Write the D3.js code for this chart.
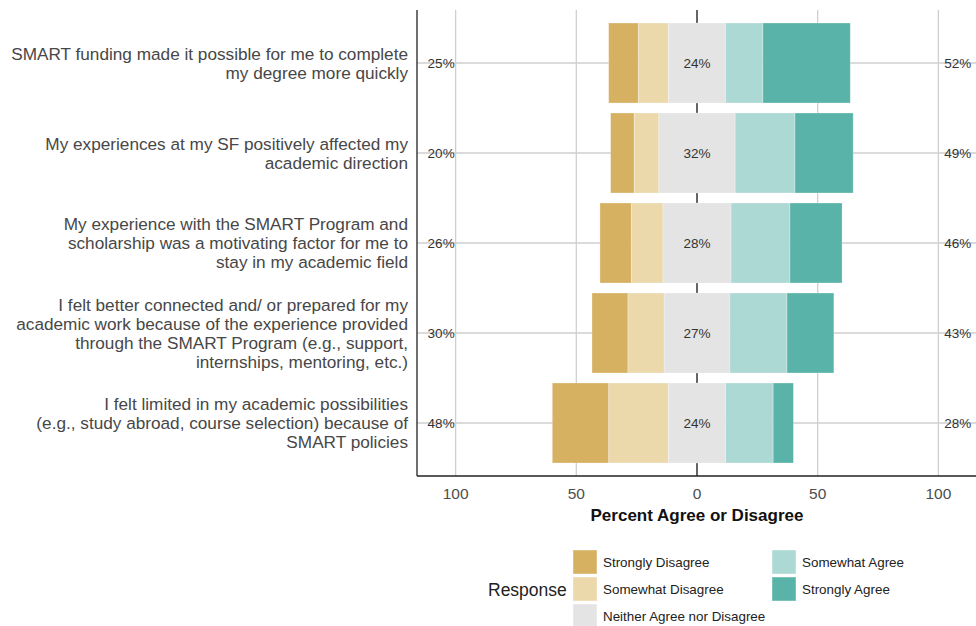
<!DOCTYPE html>
<html>
<head>
<meta charset="utf-8">
<script src="https://cdn.jsdelivr.net/npm/d3@7"></script>
<style>
  body { margin: 0; background: #fff; }
  svg { display: block; font-family: "Liberation Sans", Arial, sans-serif; }
</style>
</head>
<body>
<svg id="chart" width="976" height="626"></svg>
<script>
// Survey statements (top to bottom), line breaks as in the picture
const categories = [
  "SMART funding made it possible for me to complete\nmy degree more quickly",
  "My experiences at my SF positively affected my\nacademic direction",
  "My experience with the SMART Program and\nscholarship was a motivating factor for me to\nstay in my academic field",
  "I felt better connected and/ or prepared for my\nacademic work because of the experience provided\nthrough the SMART Program (e.g., support,\ninternships, mentoring, etc.)",
  "I felt limited in my academic possibilities\n(e.g., study abroad, course selection) because of\nSMART policies"
];

// Percent of respondents per response level
const stronglyDisagree = [12.3, 9.8, 13.0, 14.9, 23.4];
const somewhatDisagree = [12.5, 10.2, 13.1, 15.0, 24.7];
const neutral          = [23.6, 31.6, 28.2, 27.2, 23.7];
const somewhatAgree    = [15.5, 24.8, 24.4, 23.7, 19.7];
const stronglyAgree    = [36.2, 24.1, 21.6, 19.4, 8.4];

const responses = ["Strongly Disagree", "Somewhat Disagree", "Neither Agree nor Disagree", "Somewhat Agree", "Strongly Agree"];
const colors = ["#d6b162", "#ebd8ab", "#e4e4e4", "#add9d4", "#5ab3a9"];
const tickValues = [-100, -50, 0, 50, 100];

const svg = d3.select("#chart");

// plot panel
const panel = { left: 417, right: 977, top: 10, bottom: 476 };

const x = d3.scaleLinear().domain([-116, 116]).range([panel.left, panel.right]);
const y = d3.scaleBand()
  .domain(categories)
  .range([18, 468])
  .paddingInner(1 / 9)
  .paddingOuter(1 / 18);

// gridlines
const grid = svg.append("g");
grid.selectAll("line.v")
  .data(tickValues.filter(d => d !== 0))
  .enter().append("line")
  .attr("x1", d => x(d)).attr("x2", d => x(d))
  .attr("y1", panel.top).attr("y2", panel.bottom)
  .attr("stroke", "#cfcfcf").attr("stroke-width", 1.3);
grid.selectAll("line.h")
  .data(categories)
  .enter().append("line")
  .attr("x1", panel.left).attr("x2", panel.right)
  .attr("y1", d => y(d) + y.bandwidth() / 2).attr("y2", d => y(d) + y.bandwidth() / 2)
  .attr("stroke", "#cfcfcf").attr("stroke-width", 1.3);

// zero line behind the bars
svg.append("line")
  .attr("x1", x(0)).attr("x2", x(0))
  .attr("y1", panel.top).attr("y2", panel.bottom)
  .attr("stroke", "#111").attr("stroke-width", 1.3);

// build stacked segments for each row
const series = [stronglyDisagree, somewhatDisagree, neutral, somewhatAgree, stronglyAgree];
const segments = [];
categories.forEach((cat, i) => {
  let start = -(stronglyDisagree[i] + somewhatDisagree[i] + neutral[i] / 2);
  series.forEach((s, k) => {
    segments.push({ cat: cat, k: k, x0: start, x1: start + s[i] });
    start += s[i];
  });
});

svg.append("g")
  .selectAll("rect")
  .data(segments)
  .enter().append("rect")
  .attr("x", d => x(d.x0))
  .attr("width", d => x(d.x1) - x(d.x0))
  .attr("y", d => y(d.cat))
  .attr("height", y.bandwidth())
  .attr("fill", d => colors[d.k])
  .attr("stroke", "#ffffff")
  .attr("stroke-opacity", 0.35)
  .attr("stroke-width", 0.8);

// percent labels: disagree (left), neutral (middle), agree (right)
const labels = svg.append("g")
  .attr("font-size", "13.5px")
  .attr("fill", "#333")
  .attr("text-anchor", "middle");
categories.forEach((cat, i) => {
  const cy = y(cat) + y.bandwidth() / 2;
  const dis = Math.round(stronglyDisagree[i] + somewhatDisagree[i]);
  const agr = Math.round(somewhatAgree[i] + stronglyAgree[i]);
  labels.append("text").attr("x", x(-106)).attr("y", cy).attr("dy", "0.36em").text(dis + "%");
  labels.append("text").attr("x", x(0)).attr("y", cy).attr("dy", "0.36em").text(Math.round(neutral[i]) + "%");
  labels.append("text").attr("x", x(108)).attr("y", cy).attr("dy", "0.36em").text(agr + "%");
});

// axes lines
svg.append("line")
  .attr("x1", panel.left).attr("x2", panel.left).attr("y1", panel.top).attr("y2", panel.bottom)
  .attr("stroke", "#222").attr("stroke-width", 1.3);
svg.append("line")
  .attr("x1", panel.left).attr("x2", panel.right).attr("y1", panel.bottom).attr("y2", panel.bottom)
  .attr("stroke", "#222").attr("stroke-width", 1.3);

// x tick labels
svg.append("g")
  .selectAll("text")
  .data(tickValues)
  .enter().append("text")
  .attr("x", d => x(d))
  .attr("y", 493)
  .attr("dy", "0.36em")
  .attr("text-anchor", "middle")
  .attr("font-size", "15.5px")
  .attr("fill", "#4d4d4d")
  .text(d => Math.abs(d));

svg.append("text")
  .attr("x", x(0))
  .attr("y", 515)
  .attr("dy", "0.36em")
  .attr("text-anchor", "middle")
  .attr("font-size", "17px")
  .attr("font-weight", "bold")
  .attr("fill", "#111")
  .text("Percent Agree or Disagree");

// category labels on the left
const catG = svg.append("g")
  .attr("font-size", "17.2px")
  .attr("fill", "#474747")
  .attr("text-anchor", "end");
categories.forEach(cat => {
  const lines = cat.split("\n");
  const cy = y(cat) + y.bandwidth() / 2;
  const lh = 19;
  const t = catG.append("text").attr("x", 408);
  lines.forEach((ln, j) => {
    t.append("tspan")
      .attr("x", 408)
      .attr("y", cy + (j - (lines.length - 1) / 2) * lh)
      .attr("dy", "0.36em")
      .text(ln);
  });
});

// legend
const legend = svg.append("g");
legend.append("text")
  .attr("x", 488).attr("y", 590).attr("dy", "0.36em")
  .attr("font-size", "17.5px").attr("fill", "#222")
  .text("Response");

const legendPos = [
  { cx: 573, row: 0 }, { cx: 573, row: 1 }, { cx: 573, row: 2 },
  { cx: 772, row: 0 }, { cx: 772, row: 1 }
];
responses.forEach((r, k) => {
  const p = legendPos[k];
  const ky = 550 + p.row * 27;
  legend.append("rect")
    .attr("x", p.cx).attr("y", ky)
    .attr("width", 24).attr("height", 24)
    .attr("fill", colors[k])
    .attr("stroke", "#ffffff").attr("stroke-opacity", 0.4);
  legend.append("text")
    .attr("x", p.cx + 30).attr("y", ky + 12).attr("dy", "0.36em")
    .attr("font-size", "13.4px").attr("fill", "#222")
    .text(r);
});
</script>
</body>
</html>
